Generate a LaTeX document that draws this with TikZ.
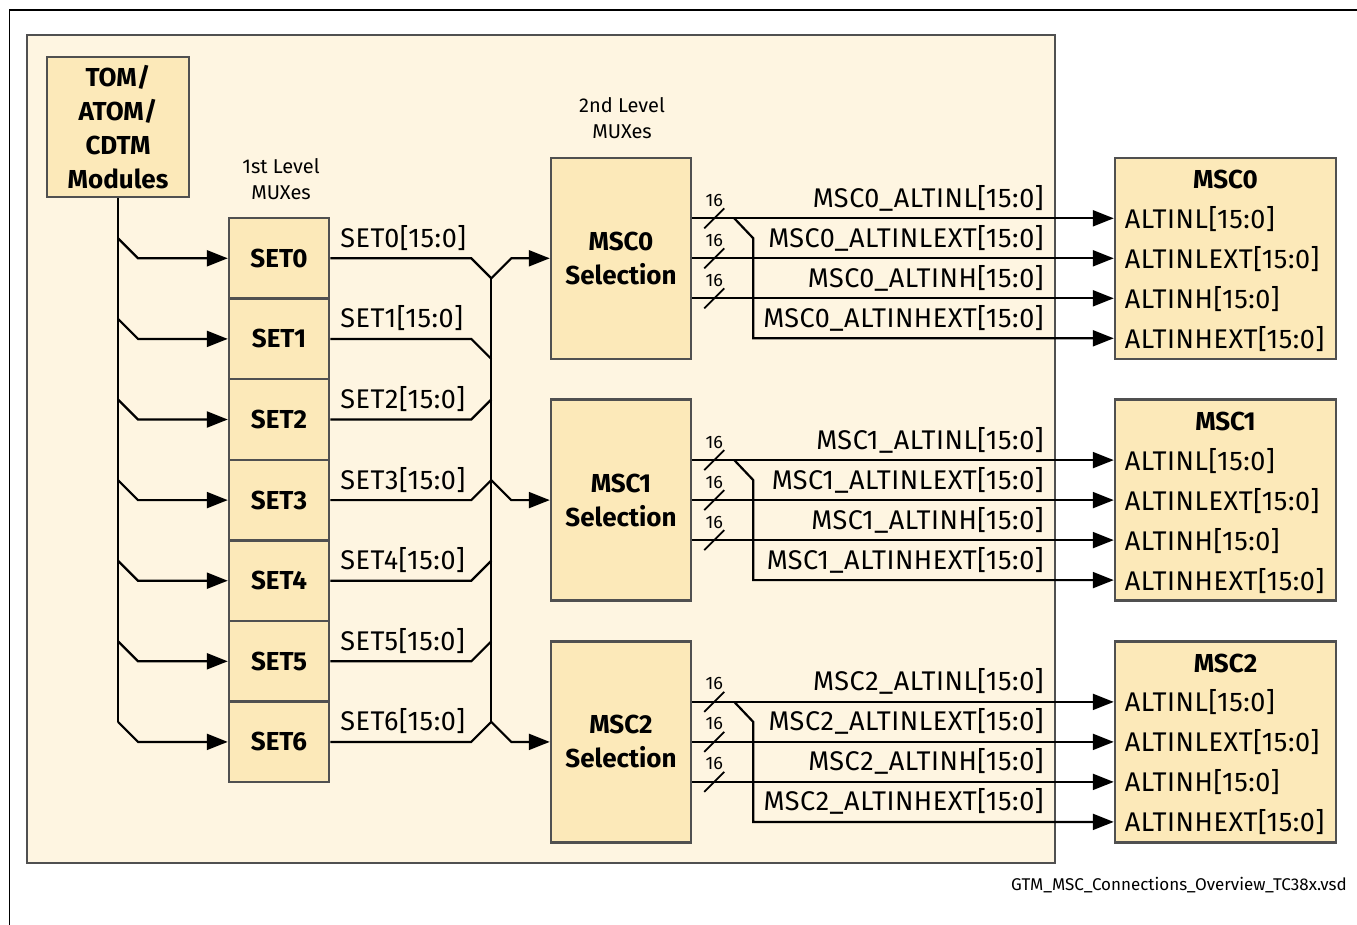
\documentclass[tikz,border=0pt]{standalone}
\usepackage{fontspec}
\setmainfont{Fira Sans}
\newfontfamily\lblfont[LetterSpace=2]{Fira Sans}
\usetikzlibrary{arrows.meta,calc}
\definecolor{bgc}{HTML}{FEF5E1}
\definecolor{boxc}{HTML}{FCE9B9}
\definecolor{bordc}{HTML}{505050}
\begin{document}
\begin{tikzpicture}[x=1pt,y=-1pt,
  blk/.style={draw=bordc,fill=boxc,line width=2.5pt,inner sep=0pt,align=center,
    font=\fontsize{26}{34}\selectfont\bfseries},
  wire/.style={line width=2.2pt,line join=miter},
  arr/.style={wire,-{Triangle[length=21pt,width=16pt]}},
  lbl/.style={font=\lblfont\fontsize{27}{30}\selectfont,inner sep=0pt},
  small/.style={font=\fontsize{20}{26}\selectfont,inner sep=0pt,align=center},
  tick/.style={line width=1.8pt},
  num/.style={font=\fontsize{18}{20}\selectfont,inner sep=0pt}]
\useasboundingbox (0,0) rectangle (1357,925);
\draw[line width=1.2pt] (9.5,925) -- (9.5,10) -- (1357,10);
\node[draw=bordc,fill=bgc,line width=2.5pt,minimum width=1028,minimum height=828,inner sep=0pt] (gtm) at (541,449) {};
\node[blk,minimum width=142,minimum height=140] (tom) at (118,127) {TOM/\\ATOM/\\CDTM\\Modules};
\node[small] (l1) at (281,179) {1st Level\\MUXes};
\node[small] (l2) at (622,118) {2nd Level\\MUXes};
\foreach \i in {0,...,6}{
  \node[blk,minimum width=100,minimum height=80.6] (set\i) at (279,{218+80.6*(\i+0.5)}) {SET\i};
}
\foreach \k/\cy in {0/258.3,1/500.1,2/741.9}{
  \node[blk,minimum width=140,minimum height=201] (sel\k) at (621,\cy) {MSC\k\\Selection};
  \node[draw=bordc,fill=boxc,line width=2.5pt,minimum width=221,minimum height=201,inner sep=0pt] (msc\k) at (1225.5,\cy) {};
  \node[font=\fontsize{26}{30}\selectfont\bfseries,inner sep=0pt] (t\k) at ($(msc\k.north)+(0,23)$) {MSC\k};
  \coordinate (a\k) at ($(sel\k.east)+(0,-40)$);
  \coordinate (b\k) at (sel\k.east);
  \coordinate (c\k) at ($(sel\k.east)+(0,40)$);
  \coordinate (d\k) at ($(sel\k.east)+(0,80)$);
  \foreach \p in {a,b,c}{
    \draw[arr] (\p\k) -- (\p\k -| msc\k.west);
    \draw[tick] ($(\p\k)+(12,10)$) -- ++(20,-20);
    \node[num] at ($(\p\k)+(22,-18)$) {16};
  }
  \draw[arr] ($(a\k)+(42,0)$) -- ++(19,20) -- ($(d\k)+(61,0)$) -- (d\k -| msc\k.west);
  \node[lbl,anchor=base east] at ($(a\k -| msc\k.west)+(-70,-11)$) {MSC\k\_ALTINL[15:0]};
  \node[lbl,anchor=base east] at ($(b\k -| msc\k.west)+(-70,-11)$) {MSC\k\_ALTINLEXT[15:0]};
  \node[lbl,anchor=base east] at ($(c\k -| msc\k.west)+(-70,-11)$) {MSC\k\_ALTINH[15:0]};
  \node[lbl,anchor=base east] at ($(d\k -| msc\k.west)+(-70,-11)$) {MSC\k\_ALTINHEXT[15:0]};
  \node[lbl,anchor=base west] at ($(a\k -| msc\k.west)+(11,10)$) {ALTINL[15:0]};
  \node[lbl,anchor=base west] at ($(b\k -| msc\k.west)+(11,10)$) {ALTINLEXT[15:0]};
  \node[lbl,anchor=base west] at ($(c\k -| msc\k.west)+(11,10)$) {ALTINH[15:0]};
  \node[lbl,anchor=base west] at ($(d\k -| msc\k.west)+(11,10)$) {ALTINHEXT[15:0]};
}
% fan-out from TOM
\coordinate (tk) at ($(tom.south |- set6.west)+(0,-20)$);
\draw[wire] (tom.south) -- (tk);
\foreach \i in {0,...,6}{
  \draw[arr] ($(tom.south |- set\i.west)+(0,-20)$) -- ++(20,20) -- (set\i.west);
  \node[lbl,anchor=base west] at ($(set\i.east)+(10,-11)$) {SET\i[15:0]};
}
% bus
\draw[wire] (set0.east) -- ++(141,0) -- ++(20,20) coordinate (bustop);
\draw[wire] (set1.east) -- ++(141,0) -- ++(20,20);
\foreach \i in {2,...,6}{
  \draw[wire] (set\i.east) -- ++(141,0) -- ++(20,-20) coordinate (bus\i);
}
\draw[wire] (bustop) -- (bus6);
\draw[arr] (bustop) -- ++(20,-20) -- (sel0.west);
\draw[arr] (bus3) -- ++(20,20) -- (sel1.west);
\draw[arr] (bus6) -- ++(20,20) -- (sel2.west);
\node[font=\fontsize{17}{20}\selectfont,inner sep=0pt,anchor=east] (ft) at (1347,885) {GTM\_MSC\_Connections\_Overview\_TC38x.vsd};
\end{tikzpicture}
\end{document}
